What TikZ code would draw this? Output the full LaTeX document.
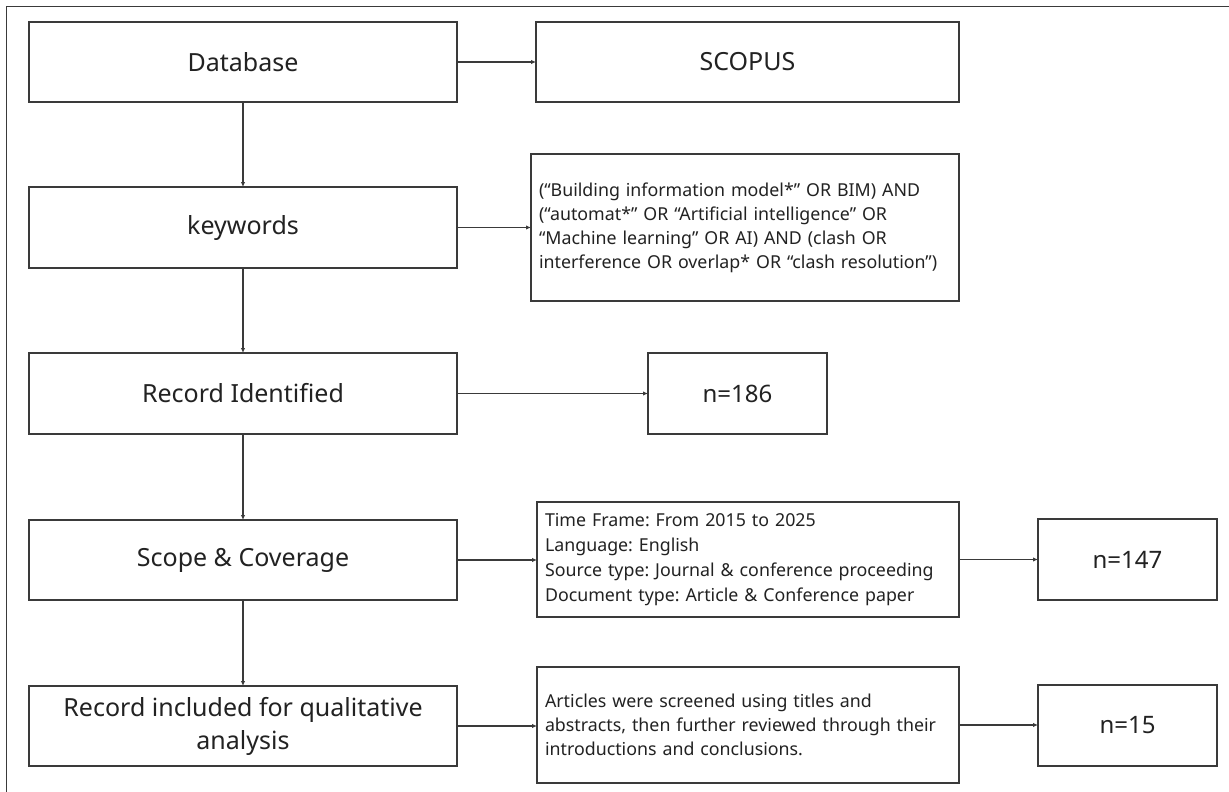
\documentclass[tikz,border=0pt]{standalone}
\usepackage{fontspec}
\setmainfont{Noto Sans}
\usetikzlibrary{arrows.meta}
\definecolor{ink}{HTML}{222222}
\definecolor{edge}{HTML}{3A3A3A}
\frenchspacing
\begin{document}
\hyphenpenalty=10000\relax
\begin{tikzpicture}[x=1pt,y=-1pt,
  box/.style={draw=edge,line width=1.3pt,inner sep=0pt,outer sep=0pt,text=ink,align=center},
  stage/.style={box,font=\fontsize{25}{33}\selectfont},
  count/.style={box,font=\fontsize{24}{28}\selectfont},
  note/.style={box,align=left,inner xsep=8pt,font=\fontsize{17.8}{24}\selectfont},
  link/.style={draw=edge,line width=1.1pt,-{Latex[length=5pt,width=4.5pt]}}]
\useasboundingbox[fill=white] (0,0) rectangle (1229,792);
% outer frame (left and top edges)
\draw[edge,line width=1pt] (6,792) -- (6,7) -- (1229,7);

% left column: stages
\node[stage,minimum width=428pt,minimum height=80pt] (db)  at (243,62)  {Database};
\node[stage,minimum width=428pt,minimum height=81pt] (kw)  at (243,227.5) {keywords};
\node[stage,minimum width=428pt,minimum height=81pt] (ri)  at (243,393.5) {Record Identified};
\node[stage,minimum width=428pt,minimum height=80pt] (sc)  at (243,560) {Scope \& Coverage};
\node[stage,minimum width=428pt,minimum height=80pt] (rq)  at (243,726) {Record included for qualitative\\analysis};

% middle column: details
\node[stage,minimum width=423pt,minimum height=80pt] (scopus) at (747.5,62) {SCOPUS};
\node[note,minimum width=428pt,minimum height=147pt,text width=412pt] (query) at (745,227.5)
  {(“Building information model*” OR BIM) AND\\(“automat*” OR “Artificial intelligence” OR\\“Machine learning” OR AI) AND (clash OR\\interference OR overlap* OR “clash resolution”)};
\node[count,minimum width=179pt,minimum height=81pt] (n186) at (737.5,393.5) {n=186};
\node[note,minimum width=422pt,minimum height=115pt,text width=406pt,
      font=\fontsize{17.8}{25}\selectfont] (crit) at (748,559.5)
  {Time Frame: From 2015 to 2025\\Language: English\\Source type: Journal \& conference proceeding\\Document type: Article \& Conference paper};
\node[note,minimum width=422pt,minimum height=116pt,text width=406pt] (screen) at (748,725)
  {Articles were screened using titles and\\abstracts, then further reviewed through their\\introductions and conclusions.};

% right column: counts
\node[count,minimum width=179pt,minimum height=81pt] (n147) at (1127.5,559.5) {n=147};
\node[count,minimum width=179pt,minimum height=81pt] (n15)  at (1127.5,725.5) {n=15};

% vertical flow
\draw[link] (db) -- (kw);
\draw[link] (kw) -- (ri);
\draw[link] (ri) -- (sc);
\draw[link] (sc) -- (rq);

% horizontal flow
\draw[link] (db.east) -- (db.east -| scopus.west);
\draw[link] (kw.east) -- (kw.east -| query.west);
\draw[link] (ri.east) -- (ri.east -| n186.west);
\draw[link] (sc.east) -- (sc.east -| crit.west);
\draw[link] (crit.east) -- (crit.east -| n147.west);
\draw[link] (rq.east) -- (rq.east -| screen.west);
\draw[link] (screen.east) -- (screen.east -| n15.west);
\end{tikzpicture}
\end{document}
